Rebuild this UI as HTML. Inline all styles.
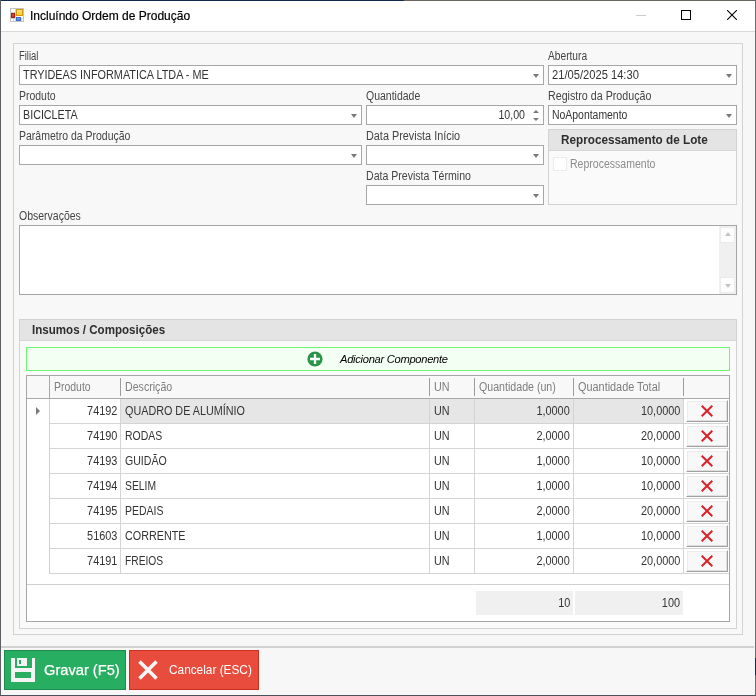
<!DOCTYPE html>
<html lang="pt-BR">
<head>
<meta charset="utf-8">
<title>Incluíndo Ordem de Produção</title>
<style>
*{box-sizing:border-box;margin:0;padding:0}
html,body{width:756px;height:696px;overflow:hidden;background:#f7f7f7}
body{position:relative;font-family:"Liberation Sans",sans-serif;font-size:12px;color:#444}
.a{position:absolute}
.t{position:absolute;white-space:nowrap;line-height:14px;height:14px;transform:scaleX(0.917);transform-origin:0 50%;color:#444}
.t.r{transform-origin:100% 50%;text-align:right}
.f{position:absolute;height:20px;background:#fff;border:1px solid #a6a6a6}
.f .t{left:3px;top:2px;color:#333}
.ar{position:absolute;right:4px;top:8px;width:0;height:0;border-left:3.5px solid transparent;border-right:3.5px solid transparent;border-top:4px solid #7a7a7a}
.g{position:absolute;border:1px solid #d2d2d2;background:#fafafa}
.gh{position:absolute;left:0;top:0;right:0;height:21px;background:#e4e4e4;border-bottom:1px solid #d6d6d6}
.gh span{position:absolute;top:0;font-weight:bold;color:#2e2e2e;font-size:12px;line-height:21px;white-space:nowrap;transform-origin:0 50%}
.hl{position:absolute;height:1px;background:#d4d4d4}
.vl{position:absolute;width:1px;background:#d4d4d4}
.hs{position:absolute;top:2px;width:1px;height:18px;background:#9c9c9c}
.xb{position:absolute;left:659px;width:42px;height:22px;background:#f8f8f8;border:1px solid #fff;border-right-color:#a0a0a0;border-bottom-color:#a0a0a0;box-shadow:inset -1px -1px 0 #e0e0e0,inset 1px 1px 0 #ececec}
.xb svg{position:absolute;left:14px;top:4px}
</style>
</head>
<body>
<div class="a" style="left:0;top:0;width:756px;height:1px;background:#6a645f"></div>
<div class="a" style="left:0;top:0;width:404px;height:1px;background:#0e2a50"></div>
<div class="a" style="left:0;top:0;width:1px;height:696px;background:#5c6064"></div>
<div class="a" style="left:755px;top:0;width:1px;height:696px;background:#6c6c6c"></div>
<div class="a" style="left:755px;top:658px;width:1px;height:17px;background:#1a2350"></div>
<div class="a" style="left:0;top:695px;width:756px;height:1px;background:#4c5058"></div>
<div class="a" style="left:1px;top:1px;width:754px;height:30px;background:#fff"></div>
<svg class="a" style="left:10px;top:8px" width="14" height="14" viewBox="0 0 14 14">
<defs><linearGradient id="gy" x1="0" y1="0" x2="0" y2="1"><stop offset="0" stop-color="#ffe680"/><stop offset="1" stop-color="#ffc81e"/></linearGradient>
<linearGradient id="gr" x1="0" y1="0" x2="0" y2="1"><stop offset="0" stop-color="#e8564a"/><stop offset="1" stop-color="#c02a20"/></linearGradient>
<linearGradient id="gb" x1="0" y1="0" x2="0" y2="1"><stop offset="0" stop-color="#7ab0f5"/><stop offset="1" stop-color="#3f7ad8"/></linearGradient></defs>
<rect x="0.5" y="0.5" width="13" height="13" fill="#fff" stroke="#c4c4c4"/>
<path d="M5.5 1V13M1 4.5H5M1 10.5H13M11.5 10V13M3.5 11V13" stroke="#d4d4d4" fill="none"/>
<rect x="6.5" y="1.5" width="6" height="6" fill="url(#gy)" stroke="#cf9a12"/>
<rect x="1.5" y="5.5" width="3" height="4" fill="url(#gr)" stroke="#a81c14"/>
<rect x="6.5" y="9.5" width="4" height="3" fill="url(#gb)" stroke="#3a6fc8"/>
</svg>
<div class="a" style="left:30px;top:8px;font-size:12px;color:#000;white-space:nowrap;line-height:16px;-webkit-text-stroke:0.2px #000">Incluíndo Ordem de Produção</div>
<div class="a" style="left:636px;top:15px;width:10px;height:1px;background:#cccccc"></div>
<div class="a" style="left:681px;top:10px;width:10px;height:10px;border:1px solid #000"></div>
<svg class="a" style="left:727px;top:10px" width="10" height="10" viewBox="0 0 10 10"><path d="M0 0L10 10M10 0L0 10" stroke="#000" stroke-width="1.1" fill="none"/></svg>
<div class="a" style="left:1px;top:31px;width:754px;height:1px;background:#d9d9d9"></div>
<div class="a" style="left:13px;top:43px;width:730px;height:592px;border:1px solid #d2d2d2;background:#f8f8f8"></div>
<div class="t " style="left:19px;top:49px;;transform:scaleX(0.7860);">Filial</div>
<div class="f" style="left:19px;top:65px;width:525px"><div class="t " style="left:3px;top:2px;color:#333;transform:scaleX(0.9043);">TRYIDEAS INFORMATICA LTDA - ME</div><i class="ar"></i></div>
<div class="t " style="left:548px;top:49px;;transform:scaleX(0.8493);">Abertura</div>
<div class="f" style="left:548px;top:65px;width:189px"><div class="t " style="left:3px;top:2px;color:#333;transform:scaleX(0.9298);">21/05/2025 14:30</div><i class="ar"></i></div>
<div class="t " style="left:19px;top:89px;;transform:scaleX(0.8712);">Produto</div>
<div class="f" style="left:19px;top:105px;width:343px"><div class="t " style="left:3px;top:2px;color:#333;transform:scaleX(0.8937);">BICICLETA</div><i class="ar"></i></div>
<div class="t " style="left:366px;top:89px;;transform:scaleX(0.8736);">Quantidade</div>
<div class="f" style="left:366px;top:105px;width:178px"><div class="t r" style="right:18px;left:auto;transform:scaleX(0.887)">10,00</div><i class="a" style="right:4px;top:3.5px;width:0;height:0;border-left:3px solid transparent;border-right:3px solid transparent;border-bottom:3px solid #7a7a7a"></i><i class="a" style="right:4px;top:12px;width:0;height:0;border-left:3px solid transparent;border-right:3px solid transparent;border-top:3px solid #7a7a7a"></i></div>
<div class="t " style="left:548px;top:89px;;transform:scaleX(0.8908);">Registro da Produção</div>
<div class="f" style="left:548px;top:105px;width:189px"><div class="t " style="left:3px;top:2px;color:#333;transform:scaleX(0.8689);">NoApontamento</div><i class="ar"></i></div>
<div class="t " style="left:19px;top:129px;;transform:scaleX(0.8743);">Parâmetro da Produção</div>
<div class="f" style="left:19px;top:145px;width:343px"><i class="ar"></i></div>
<div class="t " style="left:366px;top:129px;;transform:scaleX(0.9043);">Data Prevista Início</div>
<div class="f" style="left:366px;top:145px;width:178px"><i class="ar"></i></div>
<div class="t " style="left:366px;top:169px;;transform:scaleX(0.8805);">Data Prevista Término</div>
<div class="f" style="left:366px;top:185px;width:178px"><i class="ar"></i></div>
<div class="g" style="left:548px;top:129px;width:189px;height:76px"><div class="gh"><span style="left:12px;transform:scaleX(.978)">Reprocessamento de Lote</span></div><div class="a" style="left:4px;top:27px;width:14px;height:14px;border:1px solid #ececec;background:#fff"></div><div class="t " style="left:21px;top:27px;color:#8c8c8c;transform:scaleX(0.8774);">Reprocessamento</div></div>
<div class="t " style="left:19px;top:209px;;transform:scaleX(0.8747);">Observações</div>
<div class="a" style="left:19px;top:225px;width:718px;height:70px;border:1px solid #a6a6a6;background:#fff"><div class="a" style="right:0;top:0;width:17px;height:68px;background:#f0f0f0"></div><div class="a" style="right:1px;top:1px;width:15px;height:16px;background:#fdfdfd;border:1px solid #ececec"></div><div class="a" style="right:1px;bottom:1px;width:15px;height:16px;background:#fdfdfd;border:1px solid #ececec"></div><i class="a" style="right:5px;top:6px;width:0;height:0;border-left:3.5px solid transparent;border-right:3.5px solid transparent;border-bottom:4px solid #c4c4c4"></i><i class="a" style="right:5px;bottom:6px;width:0;height:0;border-left:3.5px solid transparent;border-right:3.5px solid transparent;border-top:4px solid #c4c4c4"></i></div>
<div class="g" style="left:19px;top:319px;width:718px;height:310px"><div class="gh"><span style="left:12px;transform:scaleX(.964)">Insumos / Composições</span></div>
<div class="a" style="left:6px;top:27px;width:704px;height:24px;background:#f4fff4;border:1px solid #6ef56e"><svg class="a" style="left:280px;top:3px" width="16" height="16" viewBox="0 0 16 16"><circle cx="8" cy="8" r="7.6" fill="#2a9448"/><path d="M8 3v10M3 8h10" stroke="#fff" stroke-width="2.3"/></svg><div class="a" style="left:313px;top:0;line-height:22px;font-style:italic;color:#000;white-space:nowrap;font-size:11.5px;letter-spacing:-0.3px;transform:scaleX(.971);transform-origin:0 50%">Adicionar Componente</div></div>
<div class="a" style="left:6px;top:55px;width:704px;height:247px;border:1px solid #a6a6a6;background:#fff;overflow:hidden"><div class="a" style="left:0;top:0;width:702px;height:245px"><div class="a" style="left:0;top:0;width:702px;height:22px;background:#f8f8f8"></div>
<div class="a" style="left:0;top:22px;width:702px;height:1px;background:#a8a8a8"></div>
<div class="a" style="left:22px;top:0;width:1px;height:22px;background:#a8a8a8"></div>
<div class="t " style="left:27px;top:4px;color:#7d7d7d;transform:scaleX(0.8712);">Produto</div>
<div class="hs" style="left:93px"></div>
<div class="t " style="left:98px;top:4px;color:#7d7d7d;transform:scaleX(0.8845);">Descrição</div>
<div class="hs" style="left:402px"></div>
<div class="t " style="left:407px;top:4px;color:#7d7d7d;transform:scaleX(0.8987);">UN</div>
<div class="hs" style="left:447px"></div>
<div class="t " style="left:452px;top:4px;color:#7d7d7d;transform:scaleX(0.8857);">Quantidade (un)</div>
<div class="hs" style="left:546px"></div>
<div class="t " style="left:551px;top:4px;color:#7d7d7d;transform:scaleX(0.9071);">Quantidade Total</div>
<div class="hs" style="left:656px"></div>
<div class="vl" style="left:22px;top:23px;height:175px;background:#d0d0d0"></div>
<div class="a" style="left:94px;top:23px;width:563px;height:24px;background:#e6e6e6"></div>
<i class="a" style="left:9px;top:31px;width:0;height:0;border-top:4px solid transparent;border-bottom:4px solid transparent;border-left:4px solid #7a7a7a"></i>
<div class="hl" style="left:23px;top:47px;width:679px"></div>
<div class="t r " style="right:612px;top:28px;color:#333;transform:scaleX(0.9078);">74192</div>
<div class="t " style="left:98px;top:28px;color:#333;transform:scaleX(0.8990);">QUADRO DE ALUMÍNIO</div>
<div class="t " style="left:407px;top:28px;color:#333;transform:scaleX(0.8987);">UN</div>
<div class="t r " style="right:159px;top:28px;color:#333;transform:scaleX(0.9078);">1,0000</div>
<div class="t r " style="right:49px;top:28px;color:#333;transform:scaleX(0.9078);">10,0000</div>
<div class="xb" style="top:24px"><svg width="12" height="12" viewBox="0 0 12 12"><path d="M0.7 0.7L11.3 11.3M11.3 0.7L0.7 11.3" stroke="#d9222a" stroke-width="2" fill="none"/></svg></div>
<div class="hl" style="left:23px;top:72px;width:679px"></div>
<div class="t r " style="right:612px;top:53px;color:#333;transform:scaleX(0.9078);">74190</div>
<div class="t " style="left:98px;top:53px;color:#333;transform:scaleX(0.8717);">RODAS</div>
<div class="t " style="left:407px;top:53px;color:#333;transform:scaleX(0.8987);">UN</div>
<div class="t r " style="right:159px;top:53px;color:#333;transform:scaleX(0.9078);">2,0000</div>
<div class="t r " style="right:49px;top:53px;color:#333;transform:scaleX(0.9078);">20,0000</div>
<div class="xb" style="top:49px"><svg width="12" height="12" viewBox="0 0 12 12"><path d="M0.7 0.7L11.3 11.3M11.3 0.7L0.7 11.3" stroke="#d9222a" stroke-width="2" fill="none"/></svg></div>
<div class="hl" style="left:23px;top:97px;width:679px"></div>
<div class="t r " style="right:612px;top:78px;color:#333;transform:scaleX(0.9078);">74193</div>
<div class="t " style="left:98px;top:78px;color:#333;transform:scaleX(0.8807);">GUIDÃO</div>
<div class="t " style="left:407px;top:78px;color:#333;transform:scaleX(0.8987);">UN</div>
<div class="t r " style="right:159px;top:78px;color:#333;transform:scaleX(0.9078);">1,0000</div>
<div class="t r " style="right:49px;top:78px;color:#333;transform:scaleX(0.9078);">10,0000</div>
<div class="xb" style="top:74px"><svg width="12" height="12" viewBox="0 0 12 12"><path d="M0.7 0.7L11.3 11.3M11.3 0.7L0.7 11.3" stroke="#d9222a" stroke-width="2" fill="none"/></svg></div>
<div class="hl" style="left:23px;top:122px;width:679px"></div>
<div class="t r " style="right:612px;top:103px;color:#333;transform:scaleX(0.9078);">74194</div>
<div class="t " style="left:98px;top:103px;color:#333;transform:scaleX(0.8627);">SELIM</div>
<div class="t " style="left:407px;top:103px;color:#333;transform:scaleX(0.8987);">UN</div>
<div class="t r " style="right:159px;top:103px;color:#333;transform:scaleX(0.9078);">1,0000</div>
<div class="t r " style="right:49px;top:103px;color:#333;transform:scaleX(0.9078);">10,0000</div>
<div class="xb" style="top:99px"><svg width="12" height="12" viewBox="0 0 12 12"><path d="M0.7 0.7L11.3 11.3M11.3 0.7L0.7 11.3" stroke="#d9222a" stroke-width="2" fill="none"/></svg></div>
<div class="hl" style="left:23px;top:147px;width:679px"></div>
<div class="t r " style="right:612px;top:128px;color:#333;transform:scaleX(0.9078);">74195</div>
<div class="t " style="left:98px;top:128px;color:#333;transform:scaleX(0.8717);">PEDAIS</div>
<div class="t " style="left:407px;top:128px;color:#333;transform:scaleX(0.8987);">UN</div>
<div class="t r " style="right:159px;top:128px;color:#333;transform:scaleX(0.9078);">2,0000</div>
<div class="t r " style="right:49px;top:128px;color:#333;transform:scaleX(0.9078);">20,0000</div>
<div class="xb" style="top:124px"><svg width="12" height="12" viewBox="0 0 12 12"><path d="M0.7 0.7L11.3 11.3M11.3 0.7L0.7 11.3" stroke="#d9222a" stroke-width="2" fill="none"/></svg></div>
<div class="hl" style="left:23px;top:172px;width:679px"></div>
<div class="t r " style="right:612px;top:153px;color:#333;transform:scaleX(0.9078);">51603</div>
<div class="t " style="left:98px;top:153px;color:#333;transform:scaleX(0.8987);">CORRENTE</div>
<div class="t " style="left:407px;top:153px;color:#333;transform:scaleX(0.8987);">UN</div>
<div class="t r " style="right:159px;top:153px;color:#333;transform:scaleX(0.9078);">1,0000</div>
<div class="t r " style="right:49px;top:153px;color:#333;transform:scaleX(0.9078);">10,0000</div>
<div class="xb" style="top:149px"><svg width="12" height="12" viewBox="0 0 12 12"><path d="M0.7 0.7L11.3 11.3M11.3 0.7L0.7 11.3" stroke="#d9222a" stroke-width="2" fill="none"/></svg></div>
<div class="hl" style="left:23px;top:197px;width:679px"></div>
<div class="t r " style="right:612px;top:178px;color:#333;transform:scaleX(0.9078);">74191</div>
<div class="t " style="left:98px;top:178px;color:#333;transform:scaleX(0.8537);">FREIOS</div>
<div class="t " style="left:407px;top:178px;color:#333;transform:scaleX(0.8987);">UN</div>
<div class="t r " style="right:159px;top:178px;color:#333;transform:scaleX(0.9078);">2,0000</div>
<div class="t r " style="right:49px;top:178px;color:#333;transform:scaleX(0.9078);">20,0000</div>
<div class="xb" style="top:174px"><svg width="12" height="12" viewBox="0 0 12 12"><path d="M0.7 0.7L11.3 11.3M11.3 0.7L0.7 11.3" stroke="#d9222a" stroke-width="2" fill="none"/></svg></div>
<div class="vl" style="left:93px;top:23px;height:175px"></div>
<div class="vl" style="left:402px;top:23px;height:175px"></div>
<div class="vl" style="left:447px;top:23px;height:175px"></div>
<div class="vl" style="left:546px;top:23px;height:175px"></div>
<div class="vl" style="left:656px;top:23px;height:175px"></div>
<div class="hl" style="left:0;top:208px;width:702px;background:#cfcfcf"></div>
<div class="a" style="left:449px;top:215px;width:97px;height:24px;background:#f0f0f0"></div>
<div class="a" style="left:548px;top:215px;width:108px;height:24px;background:#f0f0f0"></div>
<div class="t r " style="right:159px;top:220px;color:#333;transform:scaleX(0.9078);">10</div>
<div class="t r " style="right:49px;top:220px;color:#333;transform:scaleX(0.9078);">100</div></div></div></div>
<div class="a" style="left:1px;top:646px;width:753px;height:2px;background:#d2d2d2"></div>
<div class="a" style="left:4px;top:650px;width:122px;height:40px;background:#27ae60;border:1px solid #1f8a4c"><svg class="a" style="left:6px;top:7px" width="24" height="24" viewBox="0 0 24 24"><path d="M0 0H4V10H21V0H24V24H0Z" fill="#f4f4f4"/><path d="M6 0H16V8H6Z" fill="#f4f4f4"/><rect x="8" y="2" width="2" height="4" fill="#27ae60"/><rect x="4" y="14" width="16" height="6" fill="#27ae60"/></svg><div class="a" style="left:39px;top:0;line-height:38px;color:#fff;font-size:15px;white-space:nowrap;transform:scaleX(.977);transform-origin:0 50%;-webkit-text-stroke:0.25px #fff">Gravar (F5)</div></div>
<div class="a" style="left:129px;top:650px;width:130px;height:40px;background:#e74c3c;border:1px solid #c9301e"><svg class="a" style="left:8px;top:9px" width="20" height="20" viewBox="0 0 20 20"><path d="M1.5 1.5L18.5 18.5M18.5 1.5L1.5 18.5" stroke="#f6f6f6" stroke-width="3.7" fill="none"/></svg><div class="a" style="left:39px;top:0;line-height:38px;color:#fff;font-size:12px;white-space:nowrap;transform:scaleX(.986);transform-origin:0 50%">Cancelar (ESC)</div></div>
</body>
</html>
